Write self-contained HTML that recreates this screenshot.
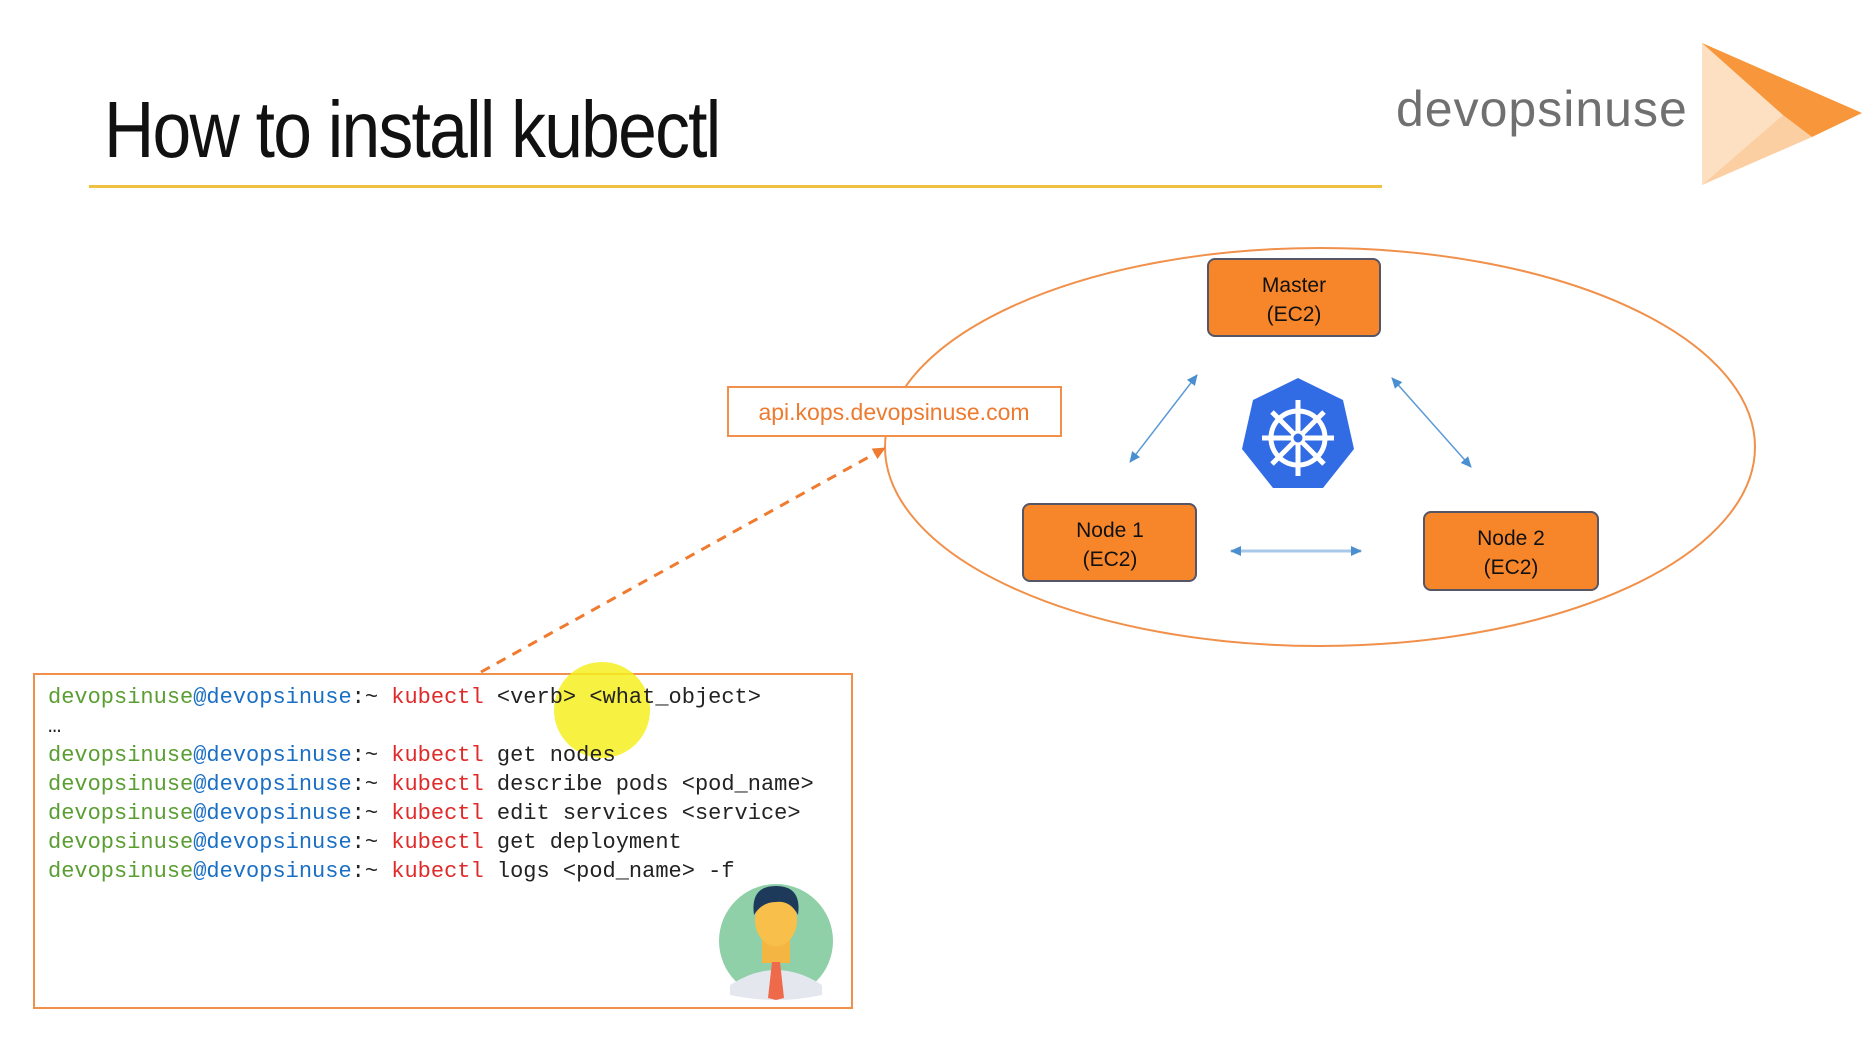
<!DOCTYPE html>
<html><head><meta charset="utf-8"><style>
html,body{margin:0;padding:0;background:#fff;}
body{width:1863px;height:1040px;position:relative;overflow:hidden;font-family:"Liberation Sans",sans-serif;}
.abs{position:absolute;}
.term{position:absolute;left:48px;top:683px;font-family:"Liberation Mono",monospace;font-size:22px;line-height:29px;color:#222;white-space:pre;}
.g{color:#5a9e32}.b{color:#1a6fc4}.r{color:#e02a2a}
</style></head><body>
<div class="abs" style="left:104px;top:84px;font-size:80px;color:#111;letter-spacing:-2px;transform:scaleX(0.87);transform-origin:left;">How to install kubectl</div>
<div class="abs" style="left:89px;top:185px;width:1293px;height:3px;background:#f0c040;"></div>
<div class="abs" style="left:1396px;top:80px;font-size:50px;color:#707070;letter-spacing:1px;">devopsinuse</div>
<svg class="abs" style="left:0;top:0" width="1863" height="1040">
<polygon points="1702,43 1862,113 1702,185" fill="#fde0c2"/>
<polygon points="1783,115 1812,137 1702,185" fill="#fccfa2"/>
<polygon points="1702,43 1862,113 1812,137 1783,115" fill="#f7963a"/>
<ellipse cx="1320" cy="447" rx="435" ry="199" fill="none" stroke="#f0904a" stroke-width="2"/>
<g fill="#f7862b" stroke="#556" stroke-width="2">
<rect x="1208" y="259" width="172" height="77" rx="7"/>
<rect x="1023" y="504" width="173" height="77" rx="7"/>
<rect x="1424" y="512" width="174" height="78" rx="7"/>
</g>
<g font-family="Liberation Sans,sans-serif" font-size="21" fill="#111" text-anchor="middle">
<text x="1294" y="292">Master</text><text x="1294" y="321">(EC2)</text>
<text x="1110" y="537">Node 1</text><text x="1110" y="566">(EC2)</text>
<text x="1511" y="545">Node 2</text><text x="1511" y="574">(EC2)</text>
</g>
<defs><marker id="a" markerUnits="userSpaceOnUse" markerWidth="12" markerHeight="12" refX="10" refY="6" orient="auto-start-reverse"><path d="M0,1 L11,6 L0,11z" fill="#4a8fd0"/></marker>
<marker id="o" markerUnits="userSpaceOnUse" markerWidth="14" markerHeight="14" refX="12" refY="7" orient="auto"><path d="M0,1 L13,7 L0,13z" fill="#f07a30"/></marker></defs>
<g stroke="#5a9ad6" stroke-width="1.5" marker-start="url(#a)" marker-end="url(#a)">
<line x1="1197" y1="375" x2="1130" y2="462"/>
<line x1="1392" y1="378" x2="1471" y2="467"/>
<line x1="1231" y1="551" x2="1361" y2="551" stroke="#a8c8ea" stroke-width="3"/>
</g>
<polygon points="1298,378 1343,400 1354,449 1323,488 1273,488 1242,449 1253,400" fill="#326ce5"/>
<g stroke="#fff" fill="none" stroke-width="5">
<circle cx="1298" cy="438" r="27"/>
<line x1="1298" y1="400" x2="1298" y2="476"/><line x1="1262" y1="438" x2="1334" y2="438"/>
<line x1="1272" y1="412" x2="1324" y2="464"/><line x1="1324" y1="412" x2="1272" y2="464"/>
</g>
<circle cx="1298" cy="438" r="6" fill="#326ce5" stroke="#fff" stroke-width="3"/>
<rect x="728" y="387" width="333" height="49" fill="#fff" stroke="#f0904a" stroke-width="2"/>
<text x="894" y="420" text-anchor="middle" font-family="Liberation Sans,sans-serif" font-size="23" fill="#ee7a30">api.kops.devopsinuse.com</text>
<line x1="481" y1="672" x2="885" y2="448" stroke="#f07a30" stroke-width="3" stroke-dasharray="10,8" marker-end="url(#o)"/>
<rect x="34" y="674" width="818" height="334" fill="#fff" stroke="#f0904a" stroke-width="2"/>
<circle cx="776" cy="941" r="57" fill="#8fd0a8"/>
<path d="M730,985 Q776,955 822,985 L822,995 Q776,1005 730,995z" fill="#e4e8ee"/>
<rect x="762" y="935" width="28" height="28" fill="#f5b542"/>
<ellipse cx="776" cy="920" rx="21" ry="26" fill="#f8c04a"/>
<path d="M754,915 Q750,886 776,886 Q802,886 798,915 Q790,900 776,902 Q762,902 754,915z" fill="#1e3a5a"/>
<polygon points="772,962 780,962 784,998 776,1000 768,998" fill="#ee6a4a"/>
<circle cx="602" cy="710" r="48" fill="#f6ee20" opacity="0.85"/>
</svg>
<div class="term"><span class="g">devopsinuse</span><span class="b">@devopsinuse</span>:~ <span class="r">kubectl</span> &lt;verb&gt; &lt;what_object&gt;
…
<span class="g">devopsinuse</span><span class="b">@devopsinuse</span>:~ <span class="r">kubectl</span> get nodes
<span class="g">devopsinuse</span><span class="b">@devopsinuse</span>:~ <span class="r">kubectl</span> describe pods &lt;pod_name&gt;
<span class="g">devopsinuse</span><span class="b">@devopsinuse</span>:~ <span class="r">kubectl</span> edit services &lt;service&gt;
<span class="g">devopsinuse</span><span class="b">@devopsinuse</span>:~ <span class="r">kubectl</span> get deployment
<span class="g">devopsinuse</span><span class="b">@devopsinuse</span>:~ <span class="r">kubectl</span> logs &lt;pod_name&gt; -f</div>
</body></html>
